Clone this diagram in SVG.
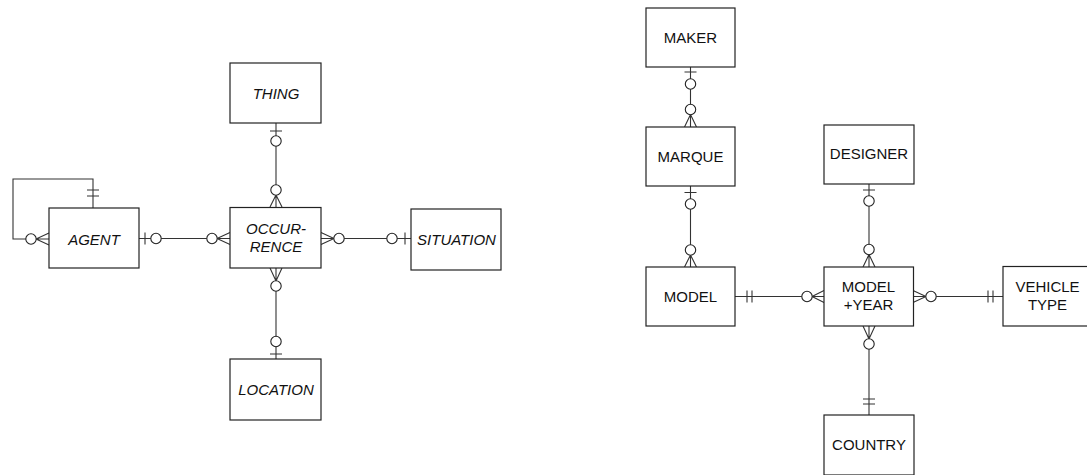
<svg xmlns="http://www.w3.org/2000/svg" width="1087" height="475" viewBox="0 0 1087 475">
<style>
.box{fill:#fff;stroke:#222;stroke-width:1.2}
.ln{fill:none;stroke:#333;stroke-width:1.1}
.c{fill:#fff;stroke:#222;stroke-width:1.1}
text{font-family:"Liberation Sans",Arial,sans-serif;font-size:15px;fill:#111;text-anchor:middle}
.it{font-style:italic}
</style>
<rect width="1087" height="475" fill="#fff"/>
<g id="connectors">
<!-- AGENT self loop -->
<path class="ln" d="M93,208 V179 H13 V239 H26"/>
<path class="ln" d="M36,239 L49,233 M36,239 L49,239 M36,239 L49,245 M87,190 H99 M87,196 H99"/>
<circle class="c" cx="31" cy="239" r="5.2"/>
<!-- AGENT - OCCURRENCE -->
<path class="ln" d="M139,238.5 H207 M145,232.5 V244.5 M217,238.5 L230,232.5 M217,238.5 L230,238.5 M217,238.5 L230,244.5"/>
<circle class="c" cx="156" cy="238.5" r="5.2"/>
<circle class="c" cx="212" cy="238.5" r="5.2"/>
<!-- THING - OCCURRENCE -->
<path class="ln" d="M276,123 V190 M270,131 H282 M276,195 L270,207 M276,195 L276,207 M276,195 L282,207"/>
<circle class="c" cx="276" cy="141" r="5.2"/>
<circle class="c" cx="276" cy="190" r="5.2"/>
<!-- OCCURRENCE - SITUATION -->
<path class="ln" d="M334,238.5 H411 M334,238.5 L321,232.5 M334,238.5 L321,238.5 M334,238.5 L321,244.5 M405,232.5 V244.5"/>
<circle class="c" cx="339" cy="238.5" r="5.2"/>
<circle class="c" cx="392" cy="238.5" r="5.2"/>
<!-- OCCURRENCE - LOCATION -->
<path class="ln" d="M276,281 V359 M276,281 L270,268 M276,281 L276,268 M276,281 L282,268 M270,354 H282"/>
<circle class="c" cx="276" cy="286" r="5.2"/>
<circle class="c" cx="276" cy="341.5" r="5.2"/>
<!-- MAKER - MARQUE -->
<path class="ln" d="M690.5,67 V114.5 M684.5,72 H696.5 M690.5,114.5 L684.5,127 M690.5,114.5 L690.5,127 M690.5,114.5 L696.5,127"/>
<circle class="c" cx="690.5" cy="84" r="5.2"/>
<circle class="c" cx="690.5" cy="109.5" r="5.2"/>
<!-- MARQUE - MODEL -->
<path class="ln" d="M690.5,186 V255 M684.5,192.5 H696.5 M690.5,255 L684.5,267 M690.5,255 L690.5,267 M690.5,255 L696.5,267"/>
<circle class="c" cx="690.5" cy="204" r="5.2"/>
<circle class="c" cx="690.5" cy="250" r="5.2"/>
<!-- DESIGNER - MODEL+YEAR -->
<path class="ln" d="M869,184 V254.5 M863,190 H875 M869,254.5 L863,267 M869,254.5 L869,267 M869,254.5 L875,267"/>
<circle class="c" cx="869" cy="201" r="5.2"/>
<circle class="c" cx="869" cy="249.5" r="5.2"/>
<!-- MODEL - MODEL+YEAR -->
<path class="ln" d="M735,296.5 H812 M747,290.5 V302.5 M752,290.5 V302.5 M812,296.5 L824,290.5 M812,296.5 L824,296.5 M812,296.5 L824,302.5"/>
<circle class="c" cx="807" cy="296.5" r="5.2"/>
<!-- MODEL+YEAR - VEHICLE TYPE -->
<path class="ln" d="M926,296.5 H1003 M926,296.5 L913,290.5 M926,296.5 L913,296.5 M926,296.5 L913,302.5 M988,290.5 V302.5 M993,290.5 V302.5"/>
<circle class="c" cx="931" cy="296.5" r="5.2"/>
<!-- MODEL+YEAR - COUNTRY -->
<path class="ln" d="M869,339 V415 M869,339 L863,326 M869,339 L869,326 M869,339 L875,326 M863,399 H875 M863,404 H875"/>
<circle class="c" cx="869" cy="344" r="5.2"/>
</g>
<g id="agent"><rect class="box" x="49" y="208" width="90" height="60"/><text class="it" x="94" y="244.5">AGENT</text></g>
<g id="thing"><rect class="box" x="230" y="63" width="91" height="60"/><text class="it" x="276" y="98.5">THING</text></g>
<g id="occurrence"><rect class="box" x="230" y="207.5" width="91" height="60.5"/><text class="it" x="276" y="233.5">OCCUR-</text><text class="it" x="276" y="251.5">RENCE</text></g>
<g id="situation"><rect class="box" x="411" y="209" width="90" height="61"/><text class="it" x="456.5" y="245">SITUATION</text></g>
<g id="location"><rect class="box" x="230" y="359" width="91" height="61"/><text class="it" x="276" y="395">LOCATION</text></g>
<g id="maker"><rect class="box" x="646" y="8" width="89" height="59"/><text x="690.5" y="42.5">MAKER</text></g>
<g id="marque"><rect class="box" x="646" y="127" width="89" height="59"/><text x="690.5" y="162">MARQUE</text></g>
<g id="model"><rect class="box" x="646" y="267" width="89" height="59"/><text x="690.5" y="301.5">MODEL</text></g>
<g id="designer"><rect class="box" x="824" y="125" width="90" height="59"/><text x="869" y="159">DESIGNER</text></g>
<g id="modelyear"><rect class="box" x="824" y="267" width="89.5" height="59"/><text x="868.5" y="292">MODEL</text><text x="868.5" y="310">+YEAR</text></g>
<g id="vehicletype"><rect class="box" x="1003" y="266.5" width="90" height="59.5"/><text x="1047.5" y="292">VEHICLE</text><text x="1047.5" y="309.5">TYPE</text></g>
<g id="country"><rect class="box" x="824" y="415" width="90" height="60"/><text x="869" y="449.5">COUNTRY</text></g>
</svg>
